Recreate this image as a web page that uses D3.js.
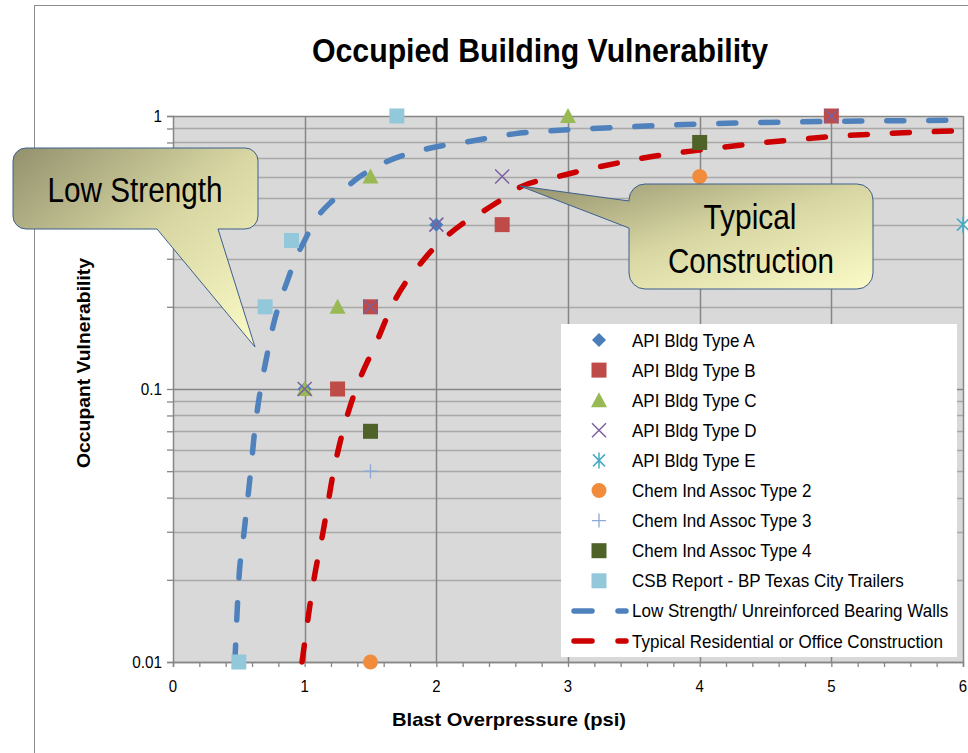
<!DOCTYPE html>
<html>
<head>
<meta charset="utf-8">
<script src="https://cdnjs.cloudflare.com/ajax/libs/d3/7.8.5/d3.min.js"></script>
<style>
  body { margin: 0; background: #fff; }
  svg text { font-family: "Liberation Sans", Arial, sans-serif; fill: #000; }
</style>
</head>
<body>
<svg id="chart" width="968" height="753"></svg>
<script>
// ---- data ----
var apiA  = [[1, 0.1], [2, 0.4]];
var apiB  = [[1.25, 0.1], [1.5, 0.2], [2.5, 0.4], [5, 1]];
var apiC  = [[1, 0.1], [1.25, 0.2], [1.5, 0.6], [3, 1]];
var apiD  = [[1, 0.1], [1.5, 0.2], [2, 0.4], [2.5, 0.6], [5, 1]];
var apiE  = [[6, 0.4]];
var chem2 = [[1.5, 0.01], [4, 0.6]];
var chem3 = [[1.5, 0.05]];
var chem4 = [[1.5, 0.07], [4, 0.8]];
var csb   = [[0.5, 0.01], [0.7, 0.2], [0.9, 0.35], [1.7, 1]];

var lowX = [0.47, 0.50, 0.54, 0.59, 0.62, 0.665, 0.71, 0.76, 0.8, 0.87, 0.93, 1.0, 1.06, 1.23, 1.42, 1.62, 1.94, 2.27, 2.59, 2.9, 3.41, 4, 5, 6];
var lowY = [0.01, 0.02, 0.03, 0.05, 0.07, 0.1, 0.13, 0.17, 0.2, 0.25, 0.3, 0.35, 0.4, 0.5, 0.6, 0.68, 0.76, 0.81, 0.86, 0.885, 0.91, 0.935, 0.955, 0.965];
var typX = [0.98, 1.07, 1.14, 1.22, 1.29, 1.39, 1.55, 1.66, 1.91, 2.19, 2.33, 2.47, 2.64, 2.9, 3.07, 3.38, 3.71, 4, 4.5, 5, 6];
var typY = [0.01, 0.02, 0.03, 0.05, 0.07, 0.1, 0.15, 0.2, 0.3, 0.4, 0.44, 0.485, 0.55, 0.596, 0.625, 0.673, 0.72, 0.75, 0.80, 0.84, 0.884];

var xTicks = [0, 1, 2, 3, 4, 5, 6];
var yTicks = [0.01, 0.1, 1];
var yTickLabels = ["0.01", "0.1", "1"];

var series = [
    {name: "API Bldg Type A", data: apiA, shape: "diamond", color: "#4a7ebb"},
    {name: "API Bldg Type B", data: apiB, shape: "square", color: "#be4b48"},
    {name: "API Bldg Type C", data: apiC, shape: "triangle", color: "#98b954"},
    {name: "API Bldg Type D", data: apiD, shape: "x", color: "#7d60a0"},
    {name: "API Bldg Type E", data: apiE, shape: "star", color: "#46aac5"},
    {name: "Chem Ind Assoc Type 2", data: chem2, shape: "circle", color: "#f08c3c"},
    {name: "Chem Ind Assoc Type 3", data: chem3, shape: "plus", color: "#8aa8d8"},
    {name: "Chem Ind Assoc Type 4", data: chem4, shape: "square", color: "#4f6228"},
    {name: "CSB Report - BP Texas City Trailers", data: csb, shape: "square", color: "#93c8da"}
];
var curves = [
    {name: "Low Strength/ Unreinforced Bearing Walls", xs: lowX, ys: lowY, color: "#4f81bd"},
    {name: "Typical Residential or Office Construction", xs: typX, ys: typY, color: "#cc0000"}
];

// ---- layout ----
var svg = d3.select("#chart");
var plotL = 173, plotR = 963, plotT = 116, plotB = 662;

var x = d3.scaleLinear().domain([0, 6]).range([plotL, plotR]);
var y = d3.scaleLog().domain([0.01, 1]).range([plotB, plotT]);

// squeeze text to a narrower width (the picture uses a narrow face)
function squeeze(sel, factor){
    sel.each(function(){
        var w = this.getComputedTextLength();
        d3.select(this).attr("textLength", w * factor).attr("lengthAdjust", "spacingAndGlyphs");
    });
    return sel;
}

// chart area border
svg.append("rect")
    .attr("x", 34.5).attr("y", 5.5)
    .attr("width", 1000).attr("height", 800)
    .attr("fill", "white").attr("stroke", "#8c8c8c");

// plot background
svg.append("rect")
    .attr("x", plotL).attr("y", plotT)
    .attr("width", plotR - plotL).attr("height", plotB - plotT)
    .attr("fill", "#d9d9d9");

// minor horizontal gridlines
var minorY = [];
[0.01, 0.1].forEach(function(dec){
    for (var k = 2; k <= 9; k++) minorY.push(dec * k);
});
svg.selectAll(".gmin")
    .data(minorY).enter().append("line")
    .attr("x1", plotL).attr("x2", plotR)
    .attr("y1", d => Math.round(y(d)) + 0.5).attr("y2", d => Math.round(y(d)) + 0.5)
    .attr("stroke", "#a9a9a9").attr("stroke-width", 1.3);

// major gridlines
svg.selectAll(".gmaj")
    .data(yTicks).enter().append("line")
    .attr("x1", plotL).attr("x2", plotR)
    .attr("y1", d => Math.round(y(d)) + 0.5).attr("y2", d => Math.round(y(d)) + 0.5)
    .attr("stroke", "#868686").attr("stroke-width", 1.5);
svg.selectAll(".gvert")
    .data(xTicks.slice(1)).enter().append("line")
    .attr("y1", plotT).attr("y2", plotB)
    .attr("x1", d => Math.round(x(d)) + 0.5).attr("x2", d => Math.round(x(d)) + 0.5)
    .attr("stroke", "#868686").attr("stroke-width", 1.5);

// x axis
var xAxis = d3.axisBottom(x)
    .tickValues(d3.range(0, 6.01, 0.2))
    .tickSize(5)
    .tickFormat("");
var gx = svg.append("g").attr("transform", "translate(0," + plotB + ")").call(xAxis);
gx.select(".domain").attr("stroke", "#868686").attr("stroke-width", 1.5);
gx.selectAll(".tick line").attr("stroke", "#868686").attr("stroke-width", 1.3);
squeeze(svg.selectAll(".xlab")
    .data(xTicks).enter().append("text")
    .attr("x", d => x(d)).attr("y", 692)
    .attr("text-anchor", "middle")
    .attr("font-size", 17)
    .text(d => d), 0.88);

// y axis
var yAxis = d3.axisLeft(y)
    .tickValues(yTicks.concat(minorY))
    .tickSize(6)
    .tickFormat("");
var gy = svg.append("g").attr("transform", "translate(" + plotL + ",0)").call(yAxis);
gy.select(".domain").attr("stroke", "#868686").attr("stroke-width", 1.5);
gy.selectAll(".tick line").attr("stroke", "#868686").attr("stroke-width", 1.3);
squeeze(svg.selectAll(".ylab")
    .data(yTicks).enter().append("text")
    .attr("x", 162).attr("y", d => y(d) + 6)
    .attr("text-anchor", "end")
    .attr("font-size", 17)
    .text((d, i) => yTickLabels[i]), 0.9);

// curves
var line = d3.line()
    .x(d => x(d[0]))
    .y(d => y(d[1]))
    .curve(d3.curveMonotoneX);
curves.forEach(function(c){
    var pts = c.xs.map((v, i) => [v, c.ys[i]]);
    svg.append("path")
        .attr("d", line(pts))
        .attr("fill", "none")
        .attr("stroke", c.color)
        .attr("stroke-width", 5.5)
        .attr("stroke-linecap", "round")
        .attr("stroke-dasharray", "17,25");
});

// markers
function drawMarker(g, shape, color, cx, cy){
    if (shape === "diamond") {
        g.append("path").attr("d", "M0,-7L7,0L0,7L-7,0Z")
            .attr("transform", "translate(" + cx + "," + cy + ")").attr("fill", color);
    } else if (shape === "square") {
        g.append("rect").attr("x", cx - 7.5).attr("y", cy - 7.5)
            .attr("width", 15).attr("height", 15).attr("fill", color);
    } else if (shape === "triangle") {
        g.append("path").attr("d", "M0,-8L8,7L-8,7Z")
            .attr("transform", "translate(" + cx + "," + cy + ")").attr("fill", color);
    } else if (shape === "circle") {
        g.append("circle").attr("cx", cx).attr("cy", cy).attr("r", 7.5).attr("fill", color);
    } else if (shape === "x") {
        g.append("path").attr("d", "M-7,-7L7,7M-7,7L7,-7")
            .attr("transform", "translate(" + cx + "," + cy + ")")
            .attr("stroke", color).attr("stroke-width", 1.5).attr("fill", "none");
    } else if (shape === "star") {
        g.append("path").attr("d", "M-6,-6L6,6M-6,6L6,-6M0,-8L0,8")
            .attr("transform", "translate(" + cx + "," + cy + ")")
            .attr("stroke", color).attr("stroke-width", 1.5).attr("fill", "none");
    } else if (shape === "plus") {
        g.append("path").attr("d", "M-7,0L7,0M0,-7L0,7")
            .attr("transform", "translate(" + cx + "," + cy + ")")
            .attr("stroke", color).attr("stroke-width", 1.3).attr("fill", "none");
    }
}
var gm = svg.append("g");
series.forEach(function(s){
    s.data.forEach(function(d){
        drawMarker(gm, s.shape, s.color, x(d[0]), y(d[1]));
    });
});

// callouts
var defs = svg.append("defs");
var grad = defs.append("linearGradient").attr("id", "callgrad")
    .attr("x1", "0").attr("y1", "0").attr("x2", "1").attr("y2", "1");
grad.append("stop").attr("offset", "0%").attr("stop-color", "#93916d");
grad.append("stop").attr("offset", "50%").attr("stop-color", "#d8d7a3");
grad.append("stop").attr("offset", "100%").attr("stop-color", "#fbfbc8");

function roundedCallout(x0, y0, x1, y1, r, tail){
    var p = d3.path();
    p.moveTo(x0 + r, y0);
    p.lineTo(x1 - r, y0);
    p.arcTo(x1, y0, x1, y0 + r, r);
    p.lineTo(x1, y1 - r);
    p.arcTo(x1, y1, x1 - r, y1, r);
    if (tail.side === "bottom") {
        p.lineTo(tail.b, y1);
        p.lineTo(tail.tx, tail.ty);
        p.lineTo(tail.a, y1);
    }
    p.lineTo(x0 + r, y1);
    p.arcTo(x0, y1, x0, y1 - r, r);
    if (tail.side === "left") {
        p.lineTo(x0, tail.b);
        p.lineTo(tail.tx, tail.ty);
        p.lineTo(x0, tail.a);
    }
    p.lineTo(x0, y0 + r);
    p.arcTo(x0, y0, x0 + r, y0, r);
    p.closePath();
    return p.toString();
}

svg.append("path")
    .attr("d", roundedCallout(13, 148, 258, 229, 13, {side: "bottom", a: 157, b: 218, tx: 255, ty: 347}))
    .attr("fill", "url(#callgrad)").attr("stroke", "#3d5f8c").attr("stroke-width", 1);
svg.append("text").attr("x", 135).attr("y", 202)
    .attr("text-anchor", "middle").attr("font-size", 35)
    .attr("textLength", 175).attr("lengthAdjust", "spacingAndGlyphs")
    .text("Low Strength");

svg.append("path")
    .attr("d", roundedCallout(629, 184, 873, 289, 16, {side: "left", a: 201, b: 228, tx: 520, ty: 186}))
    .attr("fill", "url(#callgrad)").attr("stroke", "#3d5f8c").attr("stroke-width", 1);
svg.append("text").attr("x", 750).attr("y", 229)
    .attr("text-anchor", "middle").attr("font-size", 35)
    .attr("textLength", 93).attr("lengthAdjust", "spacingAndGlyphs")
    .text("Typical");
svg.append("text").attr("x", 751).attr("y", 273)
    .attr("text-anchor", "middle").attr("font-size", 35)
    .attr("textLength", 166).attr("lengthAdjust", "spacingAndGlyphs")
    .text("Construction");

// legend
var lg = svg.append("g");
lg.append("rect").attr("x", 561).attr("y", 324).attr("width", 396).attr("height", 333).attr("fill", "white");
var legendItems = series.map(s => ({name: s.name, s: s}))
    .concat(curves.map(c => ({name: c.name, c: c})));
legendItems.forEach(function(it, i){
    var ly = 340 + i * 30.1;
    if (it.s) {
        drawMarker(lg, it.s.shape, it.s.color, 599, ly);
    } else {
        lg.append("line").attr("x1", 574).attr("x2", 626).attr("y1", ly).attr("y2", ly)
            .attr("stroke", it.c.color).attr("stroke-width", 5.5)
            .attr("stroke-linecap", "round").attr("stroke-dasharray", "18,26");
    }
    squeeze(lg.append("text").attr("x", 632).attr("y", ly + 6.5)
        .attr("font-size", 18.5).text(it.name), 0.92);
});

// titles
svg.append("text").attr("x", 540).attr("y", 62)
    .attr("text-anchor", "middle").attr("font-size", 33.5).attr("font-weight", "bold")
    .attr("textLength", 456).attr("lengthAdjust", "spacingAndGlyphs")
    .text("Occupied Building Vulnerability");
svg.append("text").attr("x", 509).attr("y", 726)
    .attr("text-anchor", "middle").attr("font-size", 19).attr("font-weight", "bold")
    .attr("textLength", 234).attr("lengthAdjust", "spacingAndGlyphs")
    .text("Blast Overpressure (psi)");
svg.append("text")
    .attr("transform", "translate(90,363) rotate(-90)")
    .attr("text-anchor", "middle").attr("font-size", 19).attr("font-weight", "bold")
    .attr("textLength", 210).attr("lengthAdjust", "spacingAndGlyphs")
    .text("Occupant Vulnerability");
</script>
</body>
</html>
